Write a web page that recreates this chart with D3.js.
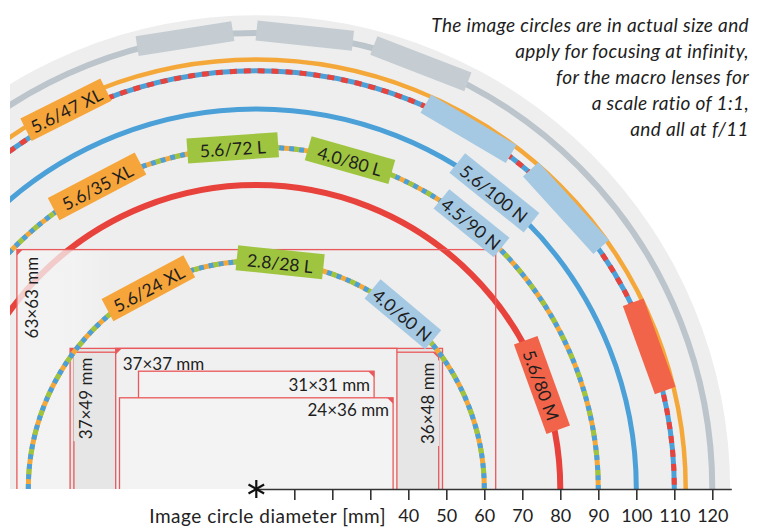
<!DOCTYPE html>
<html><head><meta charset="utf-8">
<script src="https://cdn.jsdelivr.net/npm/d3@7"></script>
<style>body{margin:0;background:#fff} svg{display:block}</style>
</head><body><svg id="c" width="758" height="528"></svg>
<script>
// ---------------- data ----------------
const axisTicks = [10,20,30,40,50,60,70,80,90,100,110,120];
const axisLabelFrom = 40;
const axisTitle = "Image circle diameter [mm]";

const circleDiameters = [120,113,110,100,90,80,60];
const circleKinds     = ['grey','orange','redblue','blue','mixed','red','mixed'];

const lensNames  = ["5.6/47 XL","5.6/35 XL","5.6/72 L","4.0/80 L","5.6/100 N","4.5/90 N","5.6/24 XL","2.8/28 L","4.0/60 N","5.6/80 M"];
const lensCircle = [113,90,90,90,100,90,60,60,60,80];
const lensFamily = ['XL','XL','L','L','N','N','XL','L','N','M'];

const blankCircle = [120,120,120,110,110,110];
const blankFamily = ['grey','grey','grey','N','N','M'];

const formatNames = ["63\u00d763 mm","37\u00d749 mm","36\u00d748 mm","37\u00d737 mm","31\u00d731 mm","24\u00d736 mm"];
const formatW = [63,49,48,37,31,36];
const formatH = [63,37,36,37,31,24];

const noteLines = ["The image circles are in actual size and","apply for focusing at infinity,","for the macro lenses for","a scale ratio of 1:1,","and all at f/11"];

// ---------------- layout / style ----------------
const W = 758, H = 528;
const cx = 256.3, cy = 489;
const dMax = 125;
const xScale = d3.scaleLinear().domain([0, dMax]).range([cx, cx + 475]);
const rScale = d3.scaleLinear().domain([0, dMax]).range([0, 475]); // diameter -> radius px

const lensArc  = [[110.6,122.7],[109.5,126],[86.3,101.6],[66.8,81.4],[44,58.4],[44.5,57.5],[106.5,130],[73,95],[40,60],[11,29]];
const lensDr   = [-5,0,0,0,0,0,0,0,0,0];
const blankArc = [[92.9,105.1],[77.8,90],[62.5,75.2],[52.7,66.3],[35,49.4],[13.5,26.4]];
const blankTh  = [20,20,20,21,21,22];

const famColor = {XL:'#f6a53b', L:'#9fc540', N:'#a5c9e3', M:'#f1644a', grey:'#c5cdd2'};
const C = {grey:'#bcc5cb', orange:'#f5a83a', red:'#e8423c', blue:'#4ba0d8', green:'#9cc63f'};
const FONT = "Lato, 'Open Sans', sans-serif";

const svg = d3.select('#c');
const defs = svg.append('defs');
defs.append('clipPath').attr('id','clip').append('rect')
  .attr('x',10).attr('y',0).attr('width',W-10).attr('height',cy);
const grad = defs.append('linearGradient').attr('id','g63').attr('x1','0').attr('x2','1').attr('y1','0').attr('y2','0');
grad.append('stop').attr('offset','0').attr('stop-color','#f4f4f4').attr('stop-opacity',0.8);
grad.append('stop').attr('offset','0.12').attr('stop-color','#f4f4f4').attr('stop-opacity',0.75);
grad.append('stop').attr('offset','0.2').attr('stop-color','#f4f4f4').attr('stop-opacity',0.0);
grad.append('stop').attr('offset','1').attr('stop-color','#f4f4f4').attr('stop-opacity',0.0);

const plot = svg.append('g').attr('clip-path','url(#clip)');

// background half disc
plot.append('path')
  .attr('transform',`translate(${cx},${cy})`)
  .attr('d', d3.arc()({innerRadius:0, outerRadius:rScale(124.7), startAngle:-Math.PI/2, endAngle:Math.PI/2}))
  .attr('fill','#eeeeee');

function arcPath(d){
  const p = d3.path();
  p.arc(cx, cy, rScale(d), Math.PI, 2*Math.PI);
  return p.toString();
}
function drawCircle(g, d, kind){
  const path = arcPath(d);
  const line = (col, w, dash, off) => {
    const s = g.append('path').attr('d',path).attr('fill','none').attr('stroke',col).attr('stroke-width',w);
    if (dash) s.attr('stroke-dasharray',dash).attr('stroke-dashoffset',off||0);
  };
  if (kind==='grey') line(C.grey, 6);
  else if (kind==='orange') line(C.orange, 4.5);
  else if (kind==='blue') line(C.blue, 5);
  else if (kind==='red') line(C.red, 6);
  else if (kind==='redblue'){ line(C.blue,5); line(C.red,5,'7 7'); }
  else if (kind==='mixed'){ line(C.orange,5); line(C.blue,5,'5 5'); line(C.green,5,'5 15',-15); }
}
function tag(g, d, a0, a1, color, name, dr, th){
  const rad = rScale(d) + (dr||0);
  const midDeg = (a0+a1)/2, mid = midDeg*Math.PI/180;
  const L = 2*rad*Math.sin((a1-a0)/2*Math.PI/180);
  const x = cx + rad*Math.cos(mid), y = cy - rad*Math.sin(mid);
  const gg = g.append('g').attr('transform',`translate(${x},${y}) rotate(${90-midDeg})`);
  gg.append('rect').attr('x',-L/2).attr('y',-th/2).attr('width',L).attr('height',th).attr('fill',color);
  if (name) gg.append('text').attr('text-anchor','middle').attr('dominant-baseline','central')
    .attr('y',1).attr('font-family',FONT).attr('font-size',17.5).attr('fill','#1e1e1e').text(name);
}

// outer circles (all but the 60 one)
circleDiameters.forEach((d,i)=>{ if (d!==60) drawCircle(plot, d, circleKinds[i]); });
// blank tags on the outer circles
blankCircle.forEach((d,i)=> tag(plot, d, blankArc[i][0], blankArc[i][1], famColor[blankFamily[i]], null, 0, blankTh[i]));

// format rectangles
const fmtFill = ['url(#g63)','#e6e6e6','#e6e6e6','#f0f0f0','#f3f3f3','#f3f3f3'];
const fmtLabel = [
  {rot:-90, dx:15, dy:48, anchor:'middle', corner:'L'},
  {rot:-90, dx:15, dy:50, anchor:'middle', corner:'L'},
  {rot:-90, dx:-11, dy:51, anchor:'middle', corner:'R', fromRight:true},
  {rot:0, dx:7, dy:22, anchor:'start', corner:'L'},
  {rot:0, dx:-4, dy:20, anchor:'end', corner:'R', fromRight:true},
  {rot:0, dx:-4, dy:18, anchor:'end', corner:'R', fromRight:true}
];
const RED = '#e9585a';
const rectG = plot.append('g'), labG = plot.append('g');
formatNames.forEach((name,i)=>{
  const hw = rScale(formatW[i]), hh = rScale(formatH[i]);
  const x0 = cx - hw, y0 = cy - hh;
  rectG.append('rect').attr('x',x0).attr('y',y0).attr('width',2*hw).attr('height',hh+4)
    .attr('fill',fmtFill[i]).attr('stroke',RED).attr('stroke-width',1.3);
  const lab = fmtLabel[i];
  const lx = (lab.fromRight ? x0+2*hw : x0) + lab.dx, ly = y0 + lab.dy;
  const tg = labG.append('g').attr('transform',`translate(${lx},${ly}) rotate(${lab.rot})`);
  const t = tg.append('text').attr('text-anchor',lab.anchor)
    .attr('dominant-baseline', lab.rot ? 'central' : 'auto')
    .attr('font-family',FONT).attr('font-size',17).attr('fill','#1e1e1e').text(name);
  if (lab.rot && i>0){
    const b = t.node().getBBox();
    tg.insert('rect','text').attr('x',b.x-2).attr('y',b.y-1).attr('width',b.width+4).attr('height',b.height+2).attr('fill',fmtFill[i]);
  }
  // corner marker
  const cxr = lab.corner==='L' ? x0 : x0+2*hw, s = lab.corner==='L' ? 1 : -1;
  labG.append('path').attr('d',`M${cxr},${y0}L${cxr+s*6},${y0}L${cxr},${y0+6}Z`).attr('fill',RED);
});

// inner 60 circle on top
circleDiameters.forEach((d,i)=>{ if (d===60) drawCircle(plot, d, circleKinds[i]); });

// lens tags
lensNames.forEach((name,i)=> tag(plot, lensCircle[i], lensArc[i][0], lensArc[i][1], famColor[lensFamily[i]], name, lensDr[i], 25));

// axis
const axis = d3.axisBottom(xScale).tickValues(axisTicks).tickSize(11).tickSizeOuter(0).tickPadding(9)
  .tickFormat(d => d >= axisLabelFrom ? d : '');
const ag = svg.append('g').attr('transform',`translate(0,${cy})`).call(axis);
ag.select('.domain').attr('stroke','#333').attr('stroke-width',1.6);
ag.selectAll('.tick line').attr('stroke','#333').attr('stroke-width',1.6);
ag.selectAll('.tick text').attr('font-family',FONT).attr('font-size',18).attr('fill','#222');
svg.append('text').attr('x',386).attr('y',523).attr('text-anchor','end')
  .attr('font-family',FONT).attr('font-size',19).attr('letter-spacing',0.5).attr('fill','#222').text(axisTitle);
// asterisk at origin
const star = svg.append('g').attr('transform',`translate(${xScale(0)},${cy})`).attr('stroke','#111').attr('stroke-width',2.2);
[90,30,150].forEach(a=>{
  const r = 9, c = Math.cos(a*Math.PI/180)*r, s = Math.sin(a*Math.PI/180)*r;
  star.append('line').attr('x1',-c).attr('y1',-s).attr('x2',c).attr('y2',s);
});

// note
svg.append('g').selectAll('text').data(noteLines).join('text')
  .attr('x',749).attr('y',(d,i)=>32 + i*26).attr('text-anchor','end')
  .attr('font-family',FONT).attr('font-style','italic').attr('font-size',19).attr('letter-spacing',0.35).attr('fill','#1e1e1e')
  .text(d=>d);
</script></body></html>
